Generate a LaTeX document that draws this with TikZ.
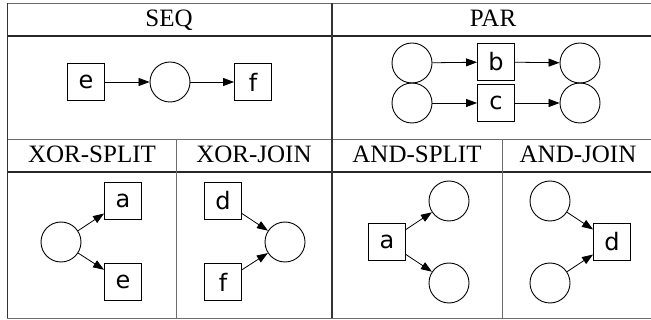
\documentclass[tikz,border=0pt]{standalone}
\usepackage{fontspec}
\setmainfont{Liberation Serif}
\newfontfamily\lblfont{DejaVu Sans}
\usetikzlibrary{arrows.meta}

\begin{document}
\begin{tikzpicture}[x=1pt, y=-1pt,
		place/.style={circle, draw, line width=0.9pt, minimum size=40pt, inner sep=0pt},
		trans/.style={rectangle, draw, line width=0.9pt, minimum size=37pt, inner sep=0pt, font=\lblfont\fontsize{24}{28}\selectfont},
		flow/.style={line width=0.8pt, -{Triangle[length=11pt, width=8pt]}},
		head/.style={anchor=base, font=\fontsize{25}{30}\selectfont},
		thinrule/.style={gray!85!black, line width=0.8pt},
		thickrule/.style={black!85, line width=1.6pt}]
	\useasboundingbox (0,0) rectangle (651,320);
	% table rules
	\draw[thinrule] (7,3) -- (651,3);
	\draw[thickrule] (7,36) -- (651,36);
	\draw[thinrule] (7,139) -- (651,139);
	\draw[thickrule] (7,172) -- (651,172);
	\draw[thinrule] (7,318) -- (651,318);
	\draw[black!80, line width=1pt] (7,3) -- (7,318);
	\draw[black!80, line width=1.4pt] (332,3) -- (332,318);
	\draw[thinrule] (176,139) -- (176,318);
	\draw[thinrule] (502,139) -- (502,318);
	% column headings
	\node[head] (hseq) at (169,27) {SEQ};
	\node[head] (hpar) at (493,27) {PAR};
	\node[head] (hxs) at (92,163) {XOR-SPLIT};
	\node[head] (hxj) at (254,163) {XOR-JOIN};
	\node[head] (has) at (417,163) {AND-SPLIT};
	\node[head] (haj) at (578,163) {AND-JOIN};

	% sequence
	\node[trans] (se) at (86,82) {e};
	\node[place] (sp) at (170,82) {};
	\node[trans] (sf) at (253,82) {f};
	\draw[flow] (se) -- (sp);
	\draw[flow] (sp) -- (sf);

	% parallel
	\node[place] (pa1) at (412,63) {};
	\node[place] (pa2) at (412,103) {};
	\node[trans] (pb) at (496,62) {b};
	\node[trans] (pc) at (496,103) {c};
	\node[place] (pz1) at (580,63) {};
	\node[place] (pz2) at (580,103) {};
	\draw[flow] (pa1) -- (pb);
	\draw[flow] (pa2) -- (pc);
	\draw[flow] (pb) -- (pz1);
	\draw[flow] (pc) -- (pz2);

	% xor split / join
	\node[place] (xsp) at (61,242) {};
	\node[trans] (xsa) at (123,201) {a};
	\node[trans] (xse) at (123,282) {e};
	\draw[flow] (xsp) -- (xsa);
	\draw[flow] (xsp) -- (xse);
	\node[trans] (xjd) at (223,201) {d};
	\node[trans] (xjf) at (223,282) {f};
	\node[place] (xjp) at (285,242) {};
	\draw[flow] (xjd) -- (xjp);
	\draw[flow] (xjf) -- (xjp);

	% and split / join
	\node[trans] (asa) at (387,242) {a};
	\node[place] (asp1) at (449,201) {};
	\node[place] (asp2) at (449,283) {};
	\draw[flow] (asa) -- (asp1);
	\draw[flow] (asa) -- (asp2);
	\node[place] (ajp1) at (550,201) {};
	\node[place] (ajp2) at (550,283) {};
	\node[trans] (ajd) at (612,242) {d};
	\draw[flow] (ajp1) -- (ajd);
	\draw[flow] (ajp2) -- (ajd);
\end{tikzpicture}
\end{document}
